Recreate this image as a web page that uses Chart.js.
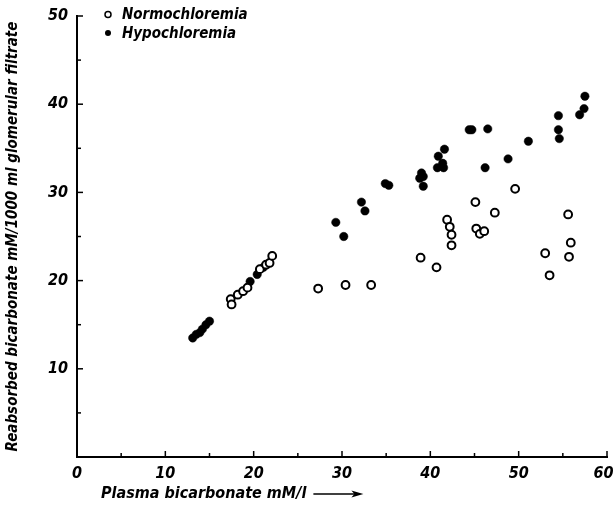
<!DOCTYPE html>
<html><head><meta charset="utf-8">
<script src="https://cdn.jsdelivr.net/npm/chart.js@4/dist/chart.umd.min.js"></script>
<style>html,body{margin:0;padding:0;background:#fff}</style>
</head><body>
<canvas id="c" width="613" height="508"></canvas>
<script>
const seriesNames = ['Normochloremia', 'Hypochloremia'];
const normoX = [17.4, 17.5, 18.2, 18.8, 19.3, 20.7, 21.4, 21.8, 22.1, 27.3, 30.4, 33.3, 38.9, 40.7, 41.9, 42.2, 42.4, 42.4, 45.1, 45.2, 45.6, 46.1, 47.3, 49.6, 53.0, 53.5, 55.6, 55.9, 55.7];
const normoY = [17.9, 17.3, 18.4, 18.8, 19.2, 21.3, 21.8, 22.0, 22.8, 19.1, 19.5, 19.5, 22.6, 21.5, 26.9, 26.1, 25.2, 24.0, 28.9, 25.9, 25.3, 25.6, 27.7, 30.4, 23.1, 20.6, 27.5, 24.3, 22.7];
const hypoX = [13.1, 13.5, 13.9, 14.2, 14.6, 15.0, 19.6, 20.4, 21.1, 29.3, 30.2, 32.2, 32.6, 34.9, 35.3, 38.8, 39.0, 39.2, 39.2, 40.8, 41.4, 41.5, 40.9, 41.6, 44.4, 44.7, 46.2, 46.5, 48.8, 51.1, 54.5, 54.5, 54.6, 56.9, 57.4, 57.5];
const hypoY = [13.5, 13.9, 14.1, 14.5, 15.0, 15.4, 19.9, 20.7, 21.5, 26.6, 25.0, 28.9, 27.9, 31.0, 30.8, 31.6, 32.2, 31.8, 30.7, 32.8, 33.3, 32.8, 34.1, 34.9, 37.1, 37.1, 32.8, 37.2, 33.8, 35.8, 38.7, 37.1, 36.1, 38.8, 39.5, 40.9];
const xTickLabels = [0, 10, 20, 30, 40, 50, 60];
const yTickLabels = [10, 20, 30, 40, 50];
const xTitle = 'Plasma bicarbonate mM/l';
const yTitle = 'Reabsorbed bicarbonate mM/1000 ml glomerular filtrate';

const FAM = "'Liberation Sans Narrow','DejaVu Sans Condensed','Roboto Condensed',sans-serif";
Chart.defaults.font.family = FAM;
Chart.defaults.color = '#000';

const toPts = (xs, ys) => xs.map((x, i) => ({x: x, y: ys[i]}));

const fixedArea = {
  id: 'fixedArea',
  afterDatasetsDraw(chart) {
    const ctx = chart.ctx;
    const xs = chart.scales.x, ys = chart.scales.y;
    ctx.save();
    ctx.strokeStyle = '#000';
    ctx.lineWidth = 1.5;
    // inward tick marks
    xs.ticks.forEach(t => {
      const px = xs.getPixelForValue(t.value);
      const len = (t.value % 10 === 0) ? 6 : 4;
      ctx.beginPath(); ctx.moveTo(px, xs.top); ctx.lineTo(px, xs.top - len); ctx.stroke();
    });
    ys.ticks.forEach(t => {
      const py = ys.getPixelForValue(t.value);
      const len = (t.value % 10 === 0) ? 6 : 4;
      ctx.beginPath(); ctx.moveTo(ys.right, py); ctx.lineTo(ys.right + len, py); ctx.stroke();
    });
    // legend
    ctx.font = 'italic bold 15px ' + FAM;
    ctx.textBaseline = 'middle';
    ctx.fillStyle = '#000';
    chart.data.datasets.forEach((ds, i) => {
      const cy = 14.5 + i * 18.5;
      ctx.beginPath();
      ctx.arc(108, cy, 3, 0, Math.PI * 2);
      if (i === 0) { ctx.lineWidth = 1.5; ctx.fillStyle = '#fff'; ctx.fill(); ctx.stroke(); }
      else { ctx.fillStyle = '#000'; ctx.fill(); }
      ctx.fillStyle = '#000';
      ctx.fillText(ds.label, 122, cy + 1);
    });
    // x title with arrow
    ctx.font = 'italic bold 16px ' + FAM;
    ctx.fillText(xTitle, 101, 494);
    const w = ctx.measureText(xTitle).width;
    const ax0 = 101 + w + 7, ax1 = ax0 + 50;
    ctx.lineWidth = 1.5;
    ctx.beginPath(); ctx.moveTo(ax0, 494); ctx.lineTo(ax1 - 8, 494); ctx.stroke();
    ctx.beginPath(); ctx.moveTo(ax1, 494); ctx.lineTo(ax1 - 12, 490.5); ctx.lineTo(ax1 - 9, 494); ctx.lineTo(ax1 - 12, 497.5); ctx.closePath(); ctx.fill();
    ctx.restore();
  }
};

new Chart(document.getElementById('c'), {
  type: 'scatter',
  data: {
    datasets: [
      {label: seriesNames[0], data: toPts(normoX, normoY), pointStyle: 'circle', pointRadius: 3.9, pointBorderWidth: 2, pointBackgroundColor: '#fff', pointBorderColor: '#000'},
      {label: seriesNames[1], data: toPts(hypoX, hypoY), pointStyle: 'circle', pointRadius: 4.2, pointBorderWidth: 0.5, pointBackgroundColor: '#000', pointBorderColor: '#000'}
    ]
  },
  options: {
    responsive: false,
    animation: false,
    devicePixelRatio: 1,
    layout: {padding: {left: 0, top: 16, right: 6, bottom: 0}},
    plugins: {legend: {display: false}, tooltip: {enabled: false}},
    scales: {
      x: {
        type: 'linear', min: 0, max: 60,
        grid: {display: true, drawOnChartArea: false, drawTicks: false},
        border: {display: true, color: '#000', width: 2},
        ticks: {stepSize: 5, padding: 7, maxRotation: 0, autoSkip: false,
          font: {size: 16, style: 'italic', weight: 'bold'},
          callback: v => xTickLabels.includes(v) ? (v === 60 ? '60\u2002' : String(v)) : ''},
        afterFit: s => { s.height = 51; s.paddingLeft = 0; s.paddingRight = 0; }
      },
      y: {
        type: 'linear', min: 0, max: 50,
        grid: {display: true, drawOnChartArea: false, drawTicks: false},
        border: {display: true, color: '#000', width: 2},
        ticks: {stepSize: 5, padding: 9, autoSkip: false,
          font: {size: 16, style: 'italic', weight: 'bold'},
          callback: v => yTickLabels.includes(v) ? String(v) : ''},
        title: {display: true, text: yTitle, font: {size: 15, style: 'italic', weight: 'bold'}, padding: {top: 4, bottom: 0}},
        afterFit: s => { s.width = 77; s.paddingTop = 0; s.paddingBottom = 0; }
      }
    }
  },
  plugins: [fixedArea]
});
</script>
</body></html>
